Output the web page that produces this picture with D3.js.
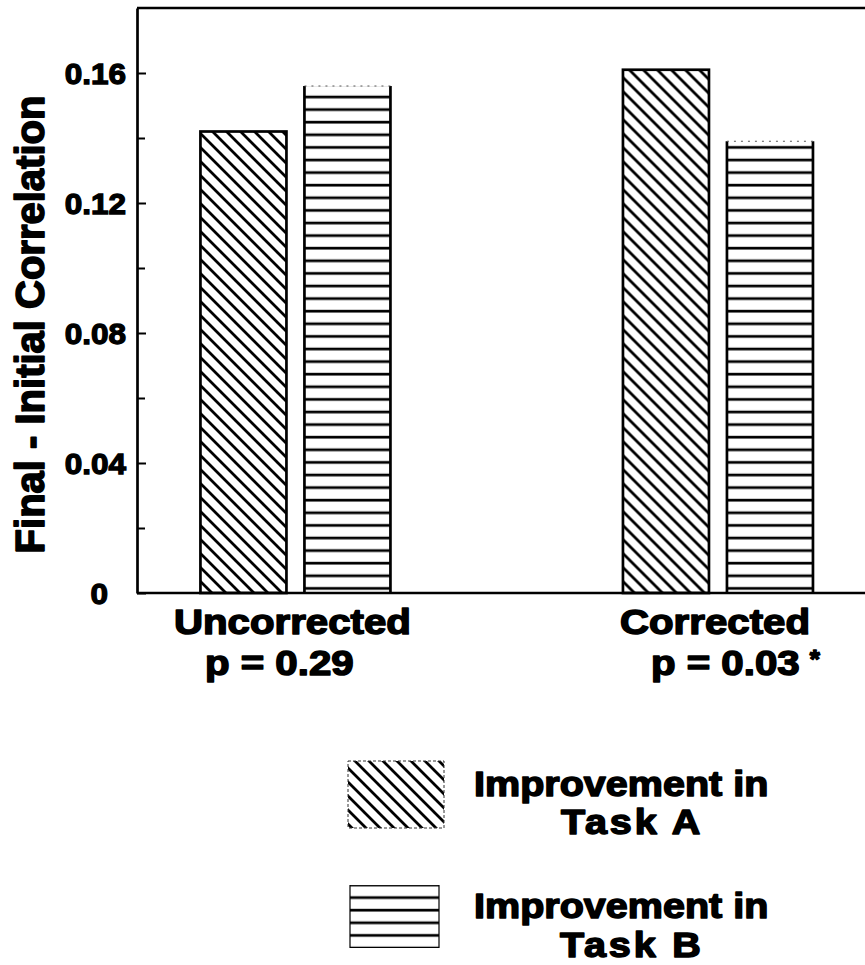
<!DOCTYPE html>
<html>
<head>
<meta charset="utf-8">
<script src="https://cdn.jsdelivr.net/npm/d3@7"></script>
<style>
  html, body { margin: 0; padding: 0; background: #fff; }
  svg { display: block; }
  text { font-family: "Liberation Sans", Arial, Helvetica, sans-serif; font-weight: bold; fill: #000; }
</style>
</head>
<body>
<svg id="chart" width="865" height="965"></svg>
<script>
// ---- data ----
const categories = ["Uncorrected", "Corrected"];
const pValueLabels = ["p = 0.29", "p = 0.03"];
const pValueMarks = ["", "*"];
const seriesNames = ["Task A", "Task B"];
const taskAValues = [0.142, 0.161];
const taskBValues = [0.156, 0.139];
const majorTicks = [0, 0.04, 0.08, 0.12, 0.16];
const majorTickLabels = ["0", "0.04", "0.08", "0.12", "0.16"];
const minorTicks = [0.02, 0.06, 0.10, 0.14];
const legendFirstLine = "Improvement in";
const yTitle = "Final - Initial Correlation";

// ---- layout ----
const W = 865, H = 965;
const plotLeft = 137, plotTop = 8, plotBottom = 593, plotRight = 876.4;
const stretch = 1.15;       // wide heavy lettering
const ink = "#000";

const svg = d3.select("#chart");
const defs = svg.append("defs");

// diagonal hatch for Task A
function diagPattern(id) {
  const p = defs.append("pattern").attr("id", id)
    .attr("patternUnits", "userSpaceOnUse").attr("width", 14).attr("height", 14);
  p.append("path")
    .attr("d", "M-3.5,10.5 L3.5,17.5 M0,0 L14,14 M10.5,-3.5 L17.5,3.5")
    .attr("stroke", ink).attr("stroke-width", 2.8).attr("fill", "none");
}
// horizontal hatch for Task B
function horizPattern(id, y0) {
  const p = defs.append("pattern").attr("id", id)
    .attr("patternUnits", "userSpaceOnUse").attr("x", 0).attr("y", y0)
    .attr("width", 10).attr("height", 12.6);
  p.append("path").attr("d", "M-1,6 H11")
    .attr("stroke", ink).attr("stroke-width", 2.7).attr("fill", "none");
}
diagPattern("hatchA");
horizPattern("hatchB", 91);
horizPattern("hatchBLegend", 879);

// ---- scales ----
const y = d3.scaleLinear().domain([0, 0.18]).range([plotBottom, plotTop]);
const x0 = d3.scaleBand().domain(categories).range([plotLeft, plotRight])
  .paddingInner(0.25).paddingOuter(0).align(0);
const x1 = d3.scaleBand().domain(seriesNames).range([0, x0.bandwidth()])
  .paddingInner(0.173).paddingOuter(0.61);

const rows = categories.map((c, i) => ({
  category: c,
  values: [
    { series: seriesNames[0], value: taskAValues[i] },
    { series: seriesNames[1], value: taskBValues[i] }
  ]
}));

// ---- bars ----
const groups = svg.append("g").selectAll("g").data(rows).join("g")
  .attr("transform", d => `translate(${x0(d.category)},0)`);

groups.each(function(d) {
  const g = d3.select(this);
  const a = d.values[0], b = d.values[1];
  // Task A: diagonal hatch with full outline
  g.append("rect")
    .attr("x", x1(a.series)).attr("y", y(a.value))
    .attr("width", x1.bandwidth()).attr("height", y(0) - y(a.value))
    .attr("fill", "url(#hatchA)").attr("stroke", ink).attr("stroke-width", 2.7);
  // Task B: horizontal hatch, solid sides, light dotted top
  const bx = x1(b.series), bw = x1.bandwidth(), by = y(b.value);
  g.append("rect")
    .attr("x", bx).attr("y", by).attr("width", bw).attr("height", y(0) - by)
    .attr("fill", "url(#hatchB)");
  g.append("path")
    .attr("d", `M${bx},${by} V${y(0)} M${bx + bw},${by} V${y(0)}`)
    .attr("stroke", ink).attr("stroke-width", 2.7).attr("fill", "none");
  g.append("line")
    .attr("x1", bx).attr("x2", bx + bw).attr("y1", by).attr("y2", by)
    .attr("stroke", "#555").attr("stroke-width", 1).attr("stroke-dasharray", "2,5");
});

// ---- frame ----
svg.append("path")
  .attr("d", `M${plotLeft},${plotTop} H${W} M${plotLeft},${plotBottom} H${W}`)
  .attr("stroke", ink).attr("stroke-width", 2.7).attr("fill", "none");

// ---- y axis ----
const yAxis = svg.append("g").attr("transform", `translate(${plotLeft},0)`)
  .call(d3.axisLeft(y).tickValues(majorTicks)
    .tickFormat((d, i) => majorTickLabels[i])
    .tickSizeInner(-9).tickSizeOuter(0).tickPadding(10));
yAxis.select(".domain").attr("stroke", ink).attr("stroke-width", 2.7);
yAxis.selectAll(".tick line").attr("stroke", ink).attr("stroke-width", 2);
yAxis.selectAll(".tick text")
  .attr("x", 0).attr("dy", "0.36em")
  .style("font-size", "30px")
  .attr("stroke", ink).attr("stroke-width", 1.3)
  .attr("transform", d => `translate(${d === 0 ? -29 : -11},0) scale(1.05,1)`);

const yMinor = svg.append("g").attr("transform", `translate(${plotLeft},0)`)
  .call(d3.axisLeft(y).tickValues(minorTicks).tickFormat("")
    .tickSizeInner(-8).tickSizeOuter(0));
yMinor.select(".domain").remove();
yMinor.selectAll(".tick line").attr("stroke", ink).attr("stroke-width", 2);

// ---- text helper ----
function label(str, x, yy, size, anchor, sx, spacing) {
  return svg.append("text")
    .attr("transform", `translate(${x},${yy}) scale(${sx},1)`)
    .attr("text-anchor", anchor)
    .style("font-size", size + "px")
    .style("letter-spacing", (spacing || 0) + "px")
    .attr("stroke", ink).attr("stroke-width", 1.5)
    .attr("stroke-linejoin", "round")
    .text(str);
}

// y-axis title
svg.append("text")
  .attr("transform", `translate(44,${(plotTop + plotBottom) / 2 + 24}) rotate(-90)`)
  .attr("text-anchor", "middle")
  .style("font-size", "40px")
  .attr("stroke", ink).attr("stroke-width", 1.6).attr("stroke-linejoin", "round")
  .text(yTitle);

// category labels and p-values
categories.forEach((c, i) => {
  const cx = x0(c) + x0.bandwidth() / 2;
  const t = label(c, cx - 3, 634, 35, "middle", stretch);
  const w = t.node().getComputedTextLength() * stretch;
  const p = label(pValueLabels[i], cx - w / 2 + 28, 675, 35, "start", stretch);
  if (pValueMarks[i]) {
    const pw = p.node().getComputedTextLength() * stretch;
    label(pValueMarks[i], cx - w / 2 + 28 + pw + 10, 668, 26, "start", 1);
  }
});

// ---- legend ----
const legend = svg.append("g");
// Task A swatch
legend.append("rect")
  .attr("x", 348).attr("y", 761).attr("width", 96).attr("height", 67)
  .attr("fill", "url(#hatchA)")
  .attr("stroke", "#333").attr("stroke-width", 1).attr("stroke-dasharray", "3,2");
// Task B swatch
legend.append("rect")
  .attr("x", 350).attr("y", 885).attr("width", 89).attr("height", 63)
  .attr("fill", "url(#hatchBLegend)");
legend.append("path")
  .attr("d", "M350,885 V948 M439,885 V948")
  .attr("stroke", ink).attr("stroke-width", 1.2).attr("fill", "none");

label(legendFirstLine, 474, 796, 35, "start", 1.13);
label(seriesNames[0], 561, 834, 35, "start", 1.13, 2.5);
label(legendFirstLine, 474, 918, 35, "start", 1.13);
label(seriesNames[1], 560, 957, 35, "start", 1.13, 2.5);
</script>
</body>
</html>
